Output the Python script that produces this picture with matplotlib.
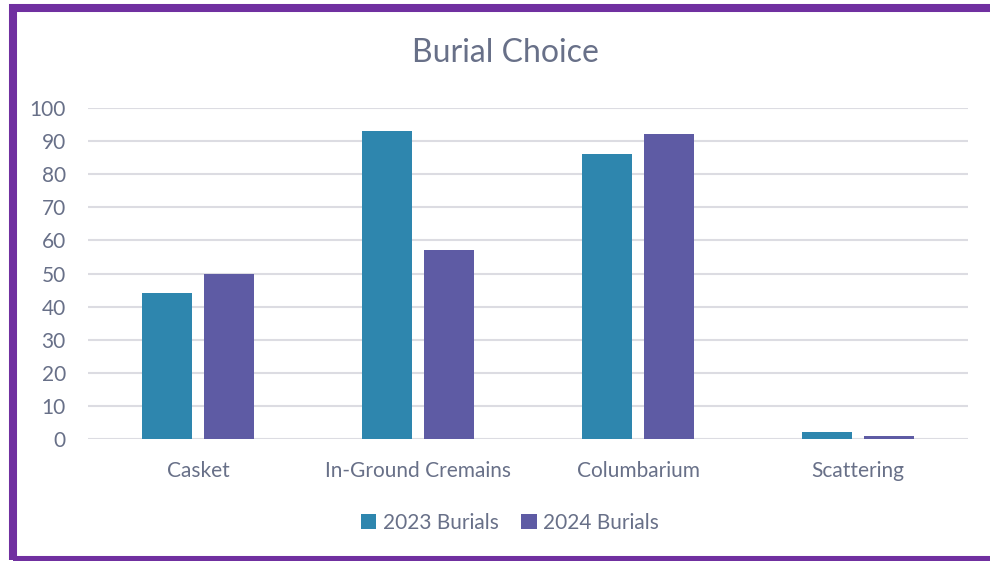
import matplotlib.pyplot as plt
import numpy as np
from matplotlib.patches import Rectangle

categories = ['Casket', 'In-Ground Cremains', 'Columbarium', 'Scattering']
burials_2023 = [44, 93, 86, 2]
burials_2024 = [50, 57, 92, 1]
y_ticks = [0, 10, 20, 30, 40, 50, 60, 70, 80, 90, 100]

plt.rcParams['font.family'] = ['Lato', 'DejaVu Sans']
text_color = '#687088'

fig = plt.figure(figsize=(9.9, 5.61), dpi=100)
W, H = 990, 561
ax = fig.add_axes([88 / W, (H - 439) / H, (968 - 88) / W, (439 - 108) / H])

x = np.arange(len(categories))
width = 0.223
offset = 0.141
ax.bar(x - offset, burials_2023, width, color='#2E86AE', label='2023 Burials', zorder=3)
ax.bar(x + offset, burials_2024, width, color='#5E5BA4', label='2024 Burials', zorder=3)

ax.set_xlim(-0.5, len(categories) - 0.5)
ax.set_ylim(0, 100)
ax.set_yticks(y_ticks)
ax.set_xticks(x)
ax.set_xticklabels(categories)
ax.tick_params(axis='both', length=0, labelsize=15, colors=text_color)
ax.tick_params(axis='y', pad=16)
ax.tick_params(axis='x', pad=16)
ax.grid(axis='y', color='#DCDCE2', linewidth=1.5, zorder=0)
for s in ax.spines.values():
    s.set_visible(False)

fig.text(505 / W, 1 - 53 / H, 'Burial Choice', ha='center', va='center',
         fontsize=23, color=text_color)

leg = fig.legend(loc='center', bbox_to_anchor=(510 / W, 1 - 523 / H), ncol=2,
                 frameon=False, fontsize=15, handlelength=0.75, handleheight=0.75,
                 handletextpad=0.3, columnspacing=1.1)
for t in leg.get_texts():
    t.set_color(text_color)

# purple frame, right edge runs off the image
fig.patches.append(Rectangle((13 / W, 1 - 560 / H), 1.2, (560 - 8) / H,
                             transform=fig.transFigure, fill=False,
                             edgecolor='#7030A0', linewidth=5.8, clip_on=False))

plt.savefig('out.png', dpi=100)
plt.close()
